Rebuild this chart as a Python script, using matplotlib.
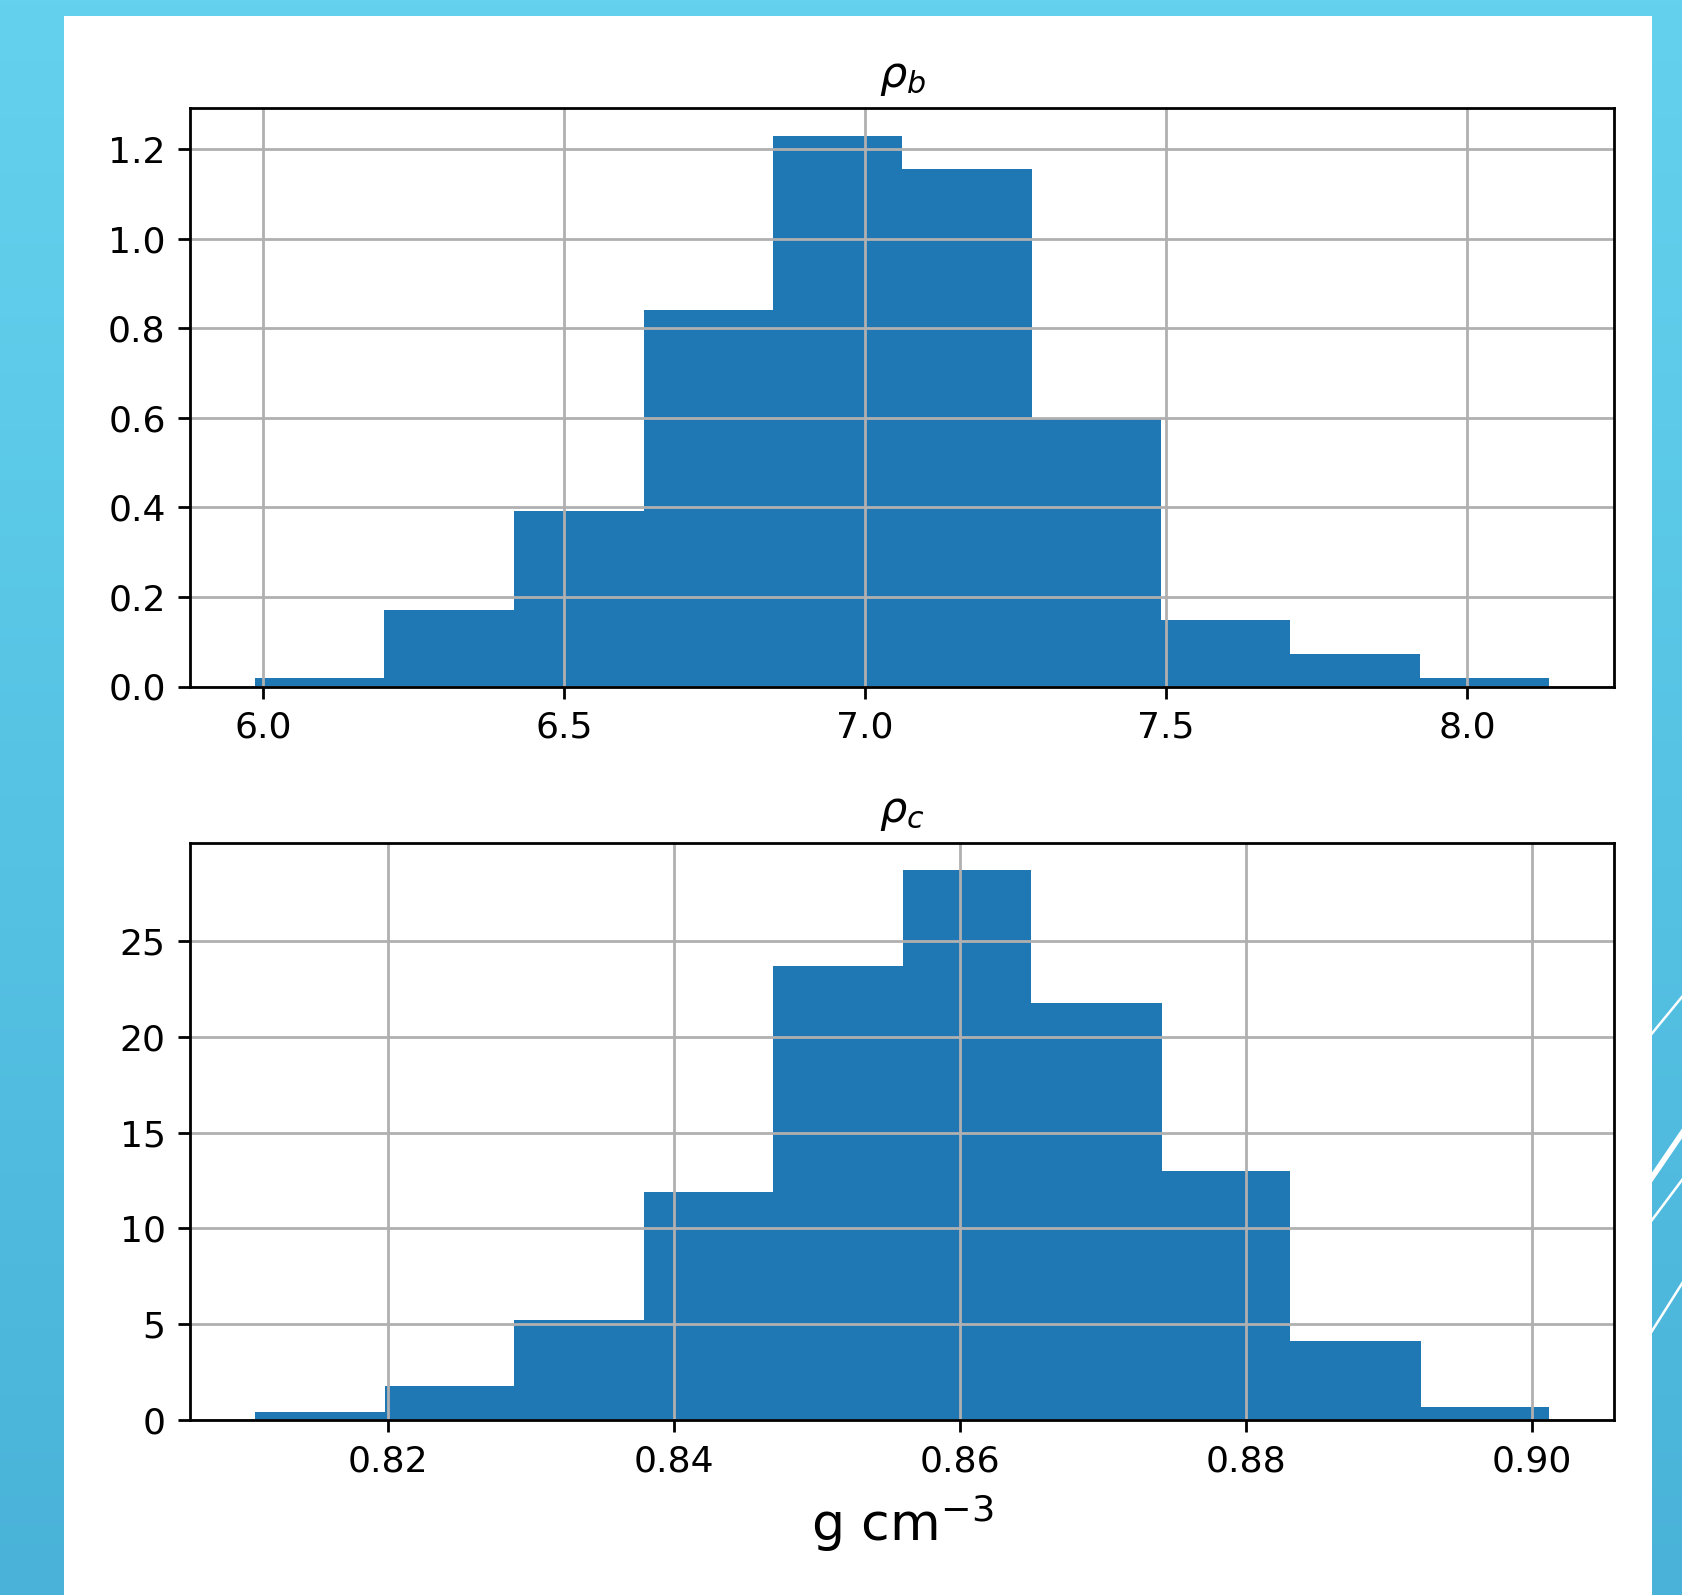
import numpy as np
import matplotlib
matplotlib.use("Agg")
import matplotlib.pyplot as plt
from matplotlib.patches import Rectangle
from matplotlib.lines import Line2D
from matplotlib.colors import LinearSegmentedColormap

# ---- data ----
rho_b_edges = [5.986, 6.201, 6.416, 6.632, 6.847, 7.062, 7.277, 7.492, 7.707, 7.922, 8.137]
rho_b_density = [0.019, 0.172, 0.392, 0.841, 1.231, 1.157, 0.600, 0.149, 0.072, 0.019]

rho_c_edges = [0.8107, 0.8198, 0.8288, 0.8379, 0.8469, 0.8560, 0.8650, 0.8741, 0.8831, 0.8922, 0.9012]
rho_c_density = [0.42, 1.77, 5.2, 11.89, 23.72, 28.68, 21.76, 13.00, 4.12, 0.68]

titles = [r"$\rho_b$", r"$\rho_c$"]
xlabel = r"g cm$^{-3}$"
bar_color = "#1f77b4"

W, H = 1682, 1595
fig = plt.figure(figsize=(W / 100, H / 100), dpi=100)

# background gradient (slide)
bg = fig.add_axes([0, 0, 1, 1], zorder=-10)
cmap = LinearSegmentedColormap.from_list("slide", ["#4ab2d8", "#56c3e4", "#64d2ee"])
grad = np.linspace(0, 1, 256).reshape(-1, 1)
bg.imshow(grad, aspect="auto", cmap=cmap, origin="lower", extent=[0, 1, 0, 1])
bg.set_axis_off()

# decorative white lines on the right edge (pixel coordinates)
deco = [((1700, 975), (1640, 1048), 1.8),
        ((1700, 1107), (1640, 1195), 4.0),
        ((1700, 1156), (1640, 1236), 1.8),
        ((1700, 1255), (1640, 1350), 1.8)]
for (x0, y0), (x1, y1), lw in deco:
    fig.add_artist(Line2D([x0 / W, x1 / W], [1 - y0 / H, 1 - y1 / H],
                          transform=fig.transFigure, color="white", lw=lw, zorder=-5))

# white panel
fig.add_artist(Rectangle((64 / W, 0), (1652 - 64) / W, 1 - 16 / H,
                         transform=fig.transFigure, facecolor="white",
                         edgecolor="none", zorder=-4))

s = 2.5
plt.rcParams.update({
    "axes.linewidth": 0.8 * s,
    "grid.linewidth": 0.8 * s,
    "xtick.major.size": 3.5 * s,
    "ytick.major.size": 3.5 * s,
    "xtick.major.width": 0.8 * s,
    "ytick.major.width": 0.8 * s,
    "xtick.major.pad": 3.5 * s,
    "ytick.major.pad": 3.5 * s,
    "xtick.labelsize": 26,
    "ytick.labelsize": 26,
})

left = 190 / W
width = (1614 - 190) / W
ax1 = fig.add_axes([left, 1 - 686.5 / H, width, (686.5 - 108) / H])
ax2 = fig.add_axes([left, 1 - 1420 / H, width, (1420 - 843) / H])

for ax, edges, dens, title in [(ax1, rho_b_edges, rho_b_density, titles[0]),
                               (ax2, rho_c_edges, rho_c_density, titles[1])]:
    edges = np.asarray(edges)
    ax.hist(edges[:-1], bins=edges, weights=dens, color=bar_color)
    ax.grid(True)
    ax.set_title(title, fontsize=31, pad=6 * s)
    ax.set_facecolor("white")

ax1.set_xticks([6.0, 6.5, 7.0, 7.5, 8.0])
ax1.set_yticks([0.0, 0.2, 0.4, 0.6, 0.8, 1.0, 1.2])
ax2.set_xticks([0.82, 0.84, 0.86, 0.88, 0.90])
ax2.set_yticks([0, 5, 10, 15, 20, 25])
ax2.set_xlabel(xlabel, fontsize=15 * s, labelpad=4 * s)

fig.savefig("out.png", dpi=100)
